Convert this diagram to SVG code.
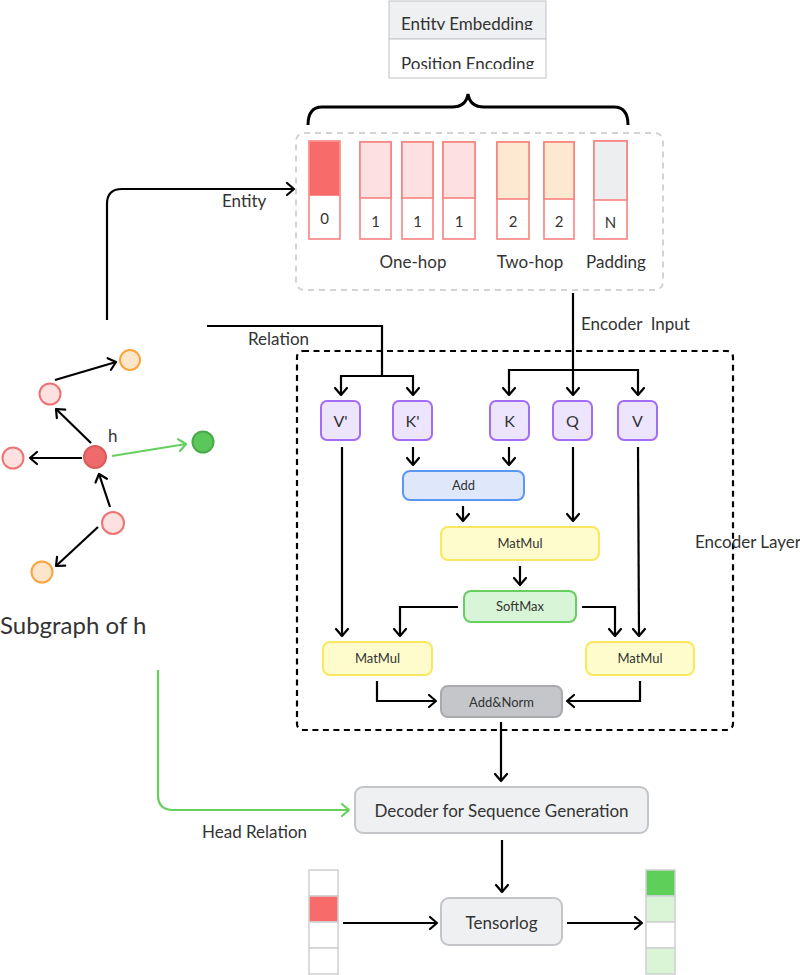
<svg xmlns="http://www.w3.org/2000/svg" width="800" height="975" viewBox="0 0 800 975">
<defs>
<marker id="ah" viewBox="-9 -8 11 16" markerWidth="11" markerHeight="16" refX="0" refY="0" orient="auto" markerUnits="userSpaceOnUse">
<path d="M-7,-6 L0,0 L-7,6" fill="none" stroke="#000" stroke-width="2.2" stroke-linecap="round" stroke-linejoin="round"/>
</marker>
<marker id="ahg" viewBox="-9 -8 11 16" markerWidth="11" markerHeight="16" refX="0" refY="0" orient="auto" markerUnits="userSpaceOnUse">
<path d="M-7,-6 L0,0 L-7,6" fill="none" stroke="#66cf5f" stroke-width="2.2" stroke-linecap="round" stroke-linejoin="round"/>
</marker>
<clipPath id="c1"><rect x="389" y="0" width="157" height="30"/></clipPath>
<clipPath id="c2"><rect x="389" y="40" width="157" height="29"/></clipPath>
</defs>
<style>
text{font-family:Lato,"Liberation Sans",sans-serif;fill:#333;}
.lbl{font-size:17px;}
.sm{font-size:13px;text-anchor:middle;}
.md{font-size:16px;text-anchor:middle;}
.ln{fill:none;stroke:#000;stroke-width:2.2;}
.arr{fill:none;stroke:#000;stroke-width:2.2;marker-end:url(#ah);}
.garr{fill:none;stroke:#66cf5f;stroke-width:2.2;marker-end:url(#ahg);}
.tok{stroke:#f8837f;stroke-width:1.6;}
.qkv{fill:#ede5fd;stroke:#a36cf5;stroke-width:2;}
.mm{fill:#fefccc;stroke:#fbe75f;stroke-width:2;}
.gb{fill:#eef0f2;stroke:#c3c5c9;stroke-width:2;}
.pk{fill:#fde0e0;stroke:#f07272;stroke-width:2;}
.or{fill:#fde5cc;stroke:#f9a53a;stroke-width:2;}
.vc{stroke:#cfd0d3;stroke-width:1.5;}
</style>

<!-- legend -->
<g id="legend">
<rect x="389" y="1" width="157" height="38" fill="#eef0f2" stroke="#c9ccd0" stroke-width="1.2"/>
<rect x="389" y="39" width="157" height="39" fill="#fff" stroke="#c9ccd0" stroke-width="1.2"/>
<text class="lbl" x="401" y="30" clip-path="url(#c1)">Entity Embedding</text>
<text class="lbl" x="401" y="70" clip-path="url(#c2)">Position Encoding</text>
</g>

<!-- brace -->
<path id="brace" d="M308,125 Q308,107 322,107 H452 Q466,107 468,94 Q470,107 484,107 H614 Q628,107 628,125" fill="none" stroke="#000" stroke-width="3"/>

<!-- sequence -->
<g id="sequence">
<rect x="296" y="133" width="367" height="157" rx="8" fill="none" stroke="#d3d3d3" stroke-width="2" stroke-dasharray="6 5"/>
<g id="tok0"><rect class="tok" x="309" y="141" width="31" height="98" fill="#fff"/><rect x="309.8" y="141.8" width="29.4" height="54" fill="#f86b6b"/><text class="md" x="324.5" y="224" style="font-size:15px">0</text></g>
<g id="tok1a"><rect class="tok" x="360" y="142" width="31" height="97" fill="#fff"/><rect class="tok" x="360" y="142" width="31" height="56" fill="#fde0e0"/><text class="md" x="375.5" y="227" style="font-size:15px">1</text></g>
<g id="tok1b"><rect class="tok" x="402" y="142" width="31" height="97" fill="#fff"/><rect class="tok" x="402" y="142" width="31" height="56" fill="#fde0e0"/><text class="md" x="417.5" y="227" style="font-size:15px">1</text></g>
<g id="tok1c"><rect class="tok" x="443" y="142" width="32" height="97" fill="#fff"/><rect class="tok" x="443" y="142" width="32" height="56" fill="#fde0e0"/><text class="md" x="459" y="227" style="font-size:15px">1</text></g>
<g id="tok2a"><rect class="tok" x="497" y="142" width="32" height="97" fill="#fff"/><rect class="tok" x="497" y="142" width="32" height="57" fill="#fde8d2"/><text class="md" x="513" y="227" style="font-size:15px">2</text></g>
<g id="tok2b"><rect class="tok" x="544" y="142" width="30" height="97" fill="#fff"/><rect class="tok" x="544" y="142" width="30" height="57" fill="#fde8d2"/><text class="md" x="559" y="227" style="font-size:15px">2</text></g>
<g id="tokN"><rect class="tok" x="594" y="141" width="33" height="98" fill="#fff"/><rect class="tok" x="594" y="141" width="33" height="59" fill="#eceef0"/><text class="md" x="610.5" y="228" style="font-size:15px">N</text></g>
<text class="lbl" x="413" y="268" text-anchor="middle">One-hop</text>
<text class="lbl" x="530" y="268" text-anchor="middle">Two-hop</text>
<text class="lbl" x="616" y="268" text-anchor="middle">Padding</text>
</g>

<!-- subgraph -->
<g id="subgraph">
<circle id="n-or1" class="or" cx="130" cy="360" r="10"/>
<circle id="n-pk1" class="pk" cx="50" cy="394" r="10.5"/>
<circle id="n-h" cx="95" cy="457" r="11" fill="#ef6b6b" stroke="#d95d5d" stroke-width="2"/>
<circle id="n-pk2" class="pk" cx="13" cy="458" r="10.5"/>
<circle id="n-g" cx="203" cy="442" r="10.5" fill="#5bc75b" stroke="#4aaa4a" stroke-width="2"/>
<circle id="n-pk3" class="pk" cx="113" cy="523" r="11"/>
<circle id="n-or2" class="or" cx="42" cy="572" r="10.5"/>
<text class="lbl" x="108" y="442">h</text>
<path class="arr" d="M55,380 L116,362"/>
<path class="arr" d="M91,443 L56,409"/>
<path class="arr" d="M82,458 L30,458"/>
<path class="garr" d="M112,456 L186,444"/>
<path class="arr" d="M110,507 L99,474"/>
<path class="arr" d="M98,527 L56,566"/>
<text x="0" y="634" style="font-size:24px">Subgraph of h</text>
</g>

<!-- encoder layer frame -->
<rect id="encoder-frame" x="297" y="351" width="436" height="379" rx="6" fill="none" stroke="#000" stroke-width="2.2" stroke-dasharray="6 4.5"/>
<text class="lbl" x="695" y="548">Encoder Layer</text>

<!-- nodes -->
<g id="Vp"><rect class="qkv" x="321" y="401" width="39" height="39" rx="6"/><text class="md" x="340.5" y="427">V'</text></g>
<g id="Kp"><rect class="qkv" x="393" y="401" width="39" height="39" rx="6"/><text class="md" x="412.5" y="427">K'</text></g>
<g id="K"><rect class="qkv" x="490" y="401" width="39" height="39" rx="6"/><text class="md" x="509.5" y="427">K</text></g>
<g id="Q"><rect class="qkv" x="553" y="401" width="39" height="39" rx="6"/><text class="md" x="572.5" y="427">Q</text></g>
<g id="V"><rect class="qkv" x="618" y="401" width="39" height="39" rx="6"/><text class="md" x="637.5" y="427">V</text></g>
<g id="Add"><rect x="403" y="471" width="121" height="29" rx="7" fill="#dfe8fb" stroke="#5a98f4" stroke-width="2"/><text class="sm" x="463.5" y="490">Add</text></g>
<g id="MatMul1"><rect class="mm" x="441" y="527" width="158" height="33" rx="7"/><text class="sm" x="520" y="548">MatMul</text></g>
<g id="SoftMax"><rect x="464" y="591" width="112" height="31" rx="7" fill="#d9f5d7" stroke="#66cf5f" stroke-width="2"/><text class="sm" x="520" y="611">SoftMax</text></g>
<g id="MatMul2"><rect class="mm" x="323" y="642" width="109" height="33" rx="7"/><text class="sm" x="377.5" y="663">MatMul</text></g>
<g id="MatMul3"><rect class="mm" x="586" y="642" width="108" height="33" rx="7"/><text class="sm" x="640" y="663">MatMul</text></g>
<g id="AddNorm"><rect x="441" y="686" width="121" height="31" rx="7" fill="#c4c6c9" stroke="#a8aaad" stroke-width="2"/><text class="sm" x="501.5" y="707">Add&amp;Norm</text></g>
<g id="Decoder"><rect class="gb" x="355" y="787" width="293" height="46" rx="8"/><text class="lbl" x="501.5" y="817" text-anchor="middle">Decoder for Sequence Generation</text></g>
<g id="Tensorlog"><rect class="gb" x="441" y="898" width="121" height="47" rx="8"/><text class="lbl" x="501.5" y="929" text-anchor="middle">Tensorlog</text></g>

<g id="vec-in">
<rect class="vc" x="309" y="870" width="29" height="26" fill="#fff"/>
<rect class="vc" x="309" y="896" width="29" height="26" fill="#f86b6b"/>
<rect class="vc" x="309" y="922" width="29" height="26" fill="#fff"/>
<rect class="vc" x="309" y="948" width="29" height="26" fill="#fff"/>
</g>
<g id="vec-out">
<rect class="vc" x="646" y="870" width="29" height="26" fill="#5ed05a"/>
<rect class="vc" x="646" y="896" width="29" height="26" fill="#daf5d6"/>
<rect class="vc" x="646" y="922" width="29" height="26" fill="#fff"/>
<rect class="vc" x="646" y="948" width="29" height="26" fill="#daf5d6"/>
</g>

<!-- connectors -->
<g id="connectors">
<path class="arr" d="M107,320 V204 Q107,189 122,189 H294"/>
<text class="lbl" x="222" y="207">Entity</text>
<path class="ln" d="M207,326 H382 V376"/>
<path class="ln" d="M341,376 H413"/>
<path class="arr" d="M341,375 V395"/>
<path class="arr" d="M413,375 V395"/>
<text class="lbl" x="248" y="345">Relation</text>
<path class="arr" d="M573,293 V395"/>
<path class="ln" d="M509,370 H638"/>
<path class="arr" d="M509,369 V395"/>
<path class="arr" d="M638,369 V395"/>
<text class="lbl" x="581" y="330" xml:space="preserve">Encoder  Input</text>
<path class="arr" d="M413,447 V465"/>
<path class="arr" d="M509,447 V465"/>
<path class="arr" d="M463,506 V521"/>
<path class="arr" d="M573,447 V521"/>
<path class="arr" d="M520,566 V585"/>
<path class="arr" d="M458,607 H400 V636"/>
<path class="arr" d="M582,607 H615 V636"/>
<path class="arr" d="M342,447 V636"/>
<path class="arr" d="M638,447 L639,636"/>
<path class="arr" d="M377,681 V701 H436"/>
<path class="arr" d="M640,681 V701 H567"/>
<path class="arr" d="M501,722 V781"/>
<path class="garr" d="M158,670 V795 Q158,810 173,810 H349"/>
<text class="lbl" x="202" y="838">Head Relation</text>
<path class="arr" d="M502,840 V892"/>
<path class="arr" d="M343,923 H437"/>
<path class="arr" d="M567,923 H642"/>
</g>
</svg>
